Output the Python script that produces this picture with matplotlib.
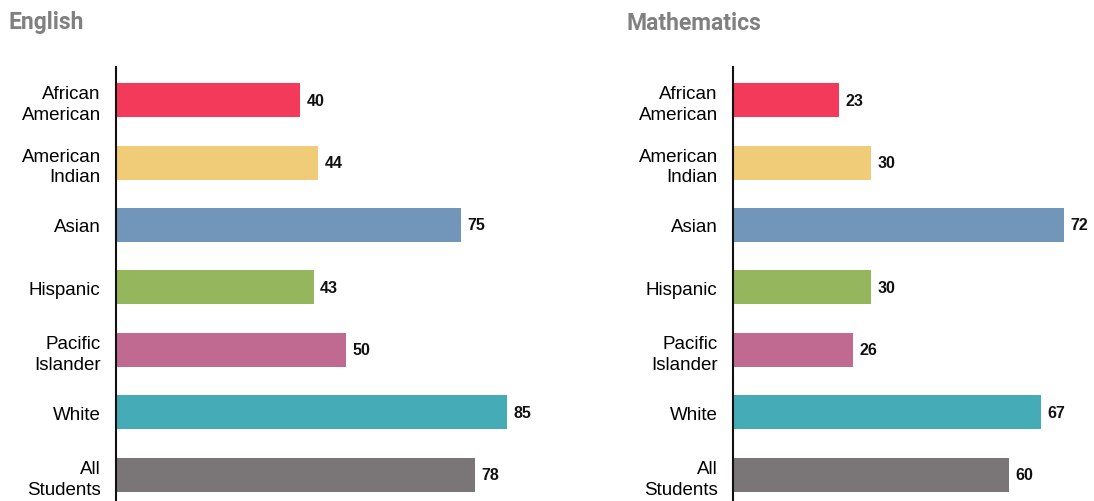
import matplotlib
matplotlib.use("Agg")
import matplotlib.pyplot as plt

categories = ["African\nAmerican", "American\nIndian", "Asian", "Hispanic",
              "Pacific\nIslander", "White", "All\nStudents"]
english = [40, 44, 75, 43, 50, 85, 78]
math = [23, 30, 72, 30, 26, 67, 60]
colors = ["#F33A5A", "#F0CC78", "#7296B9", "#95B65C", "#C06A92", "#44ABB7", "#7A7576"]
titles = ["English", "Mathematics"]

plt.rcParams['font.family'] = ['Liberation Sans', 'DejaVu Sans']

fig = plt.figure(figsize=(10.94, 5.02), dpi=100)
W, H = 1094, 502
scale = 4.6  # px per unit

panels = [
    (116, 560, english, titles[0], 9),
    (733, 1090, math, titles[1], 626),
]

for x0, x1, vals, title, tx in panels:
    ax = fig.add_axes([x0 / W, 0, (x1 - x0) / W, (H - 68) / H])
    y = list(range(len(categories)))
    ax.barh(y, vals, height=0.545, color=colors)
    ax.set_xlim(0, (x1 - x0) / scale)
    ax.set_ylim(6.42, -0.53)
    ax.set_yticks(y)
    ax.set_yticklabels(categories, fontsize=13.5, linespacing=1.3)
    ax.tick_params(axis='y', length=0, pad=11)
    ax.set_xticks([])
    for s in ["top", "right", "bottom"]:
        ax.spines[s].set_visible(False)
    ax.spines["left"].set_linewidth(1.5)
    ax.spines["left"].set_color("#111111")
    for yi, v in zip(y, vals):
        ax.text(v + 1.4, yi, str(v), va="center", ha="left", fontsize=11.5,
                fontweight="bold", color="#111111")
    fig.text(tx / W, 1 - 23 / H, title, fontsize=16.5, fontweight="bold",
             color="#808080", va="center", ha="left", family=["Roboto", "DejaVu Sans"])

fig.savefig("out.png", dpi=100)
